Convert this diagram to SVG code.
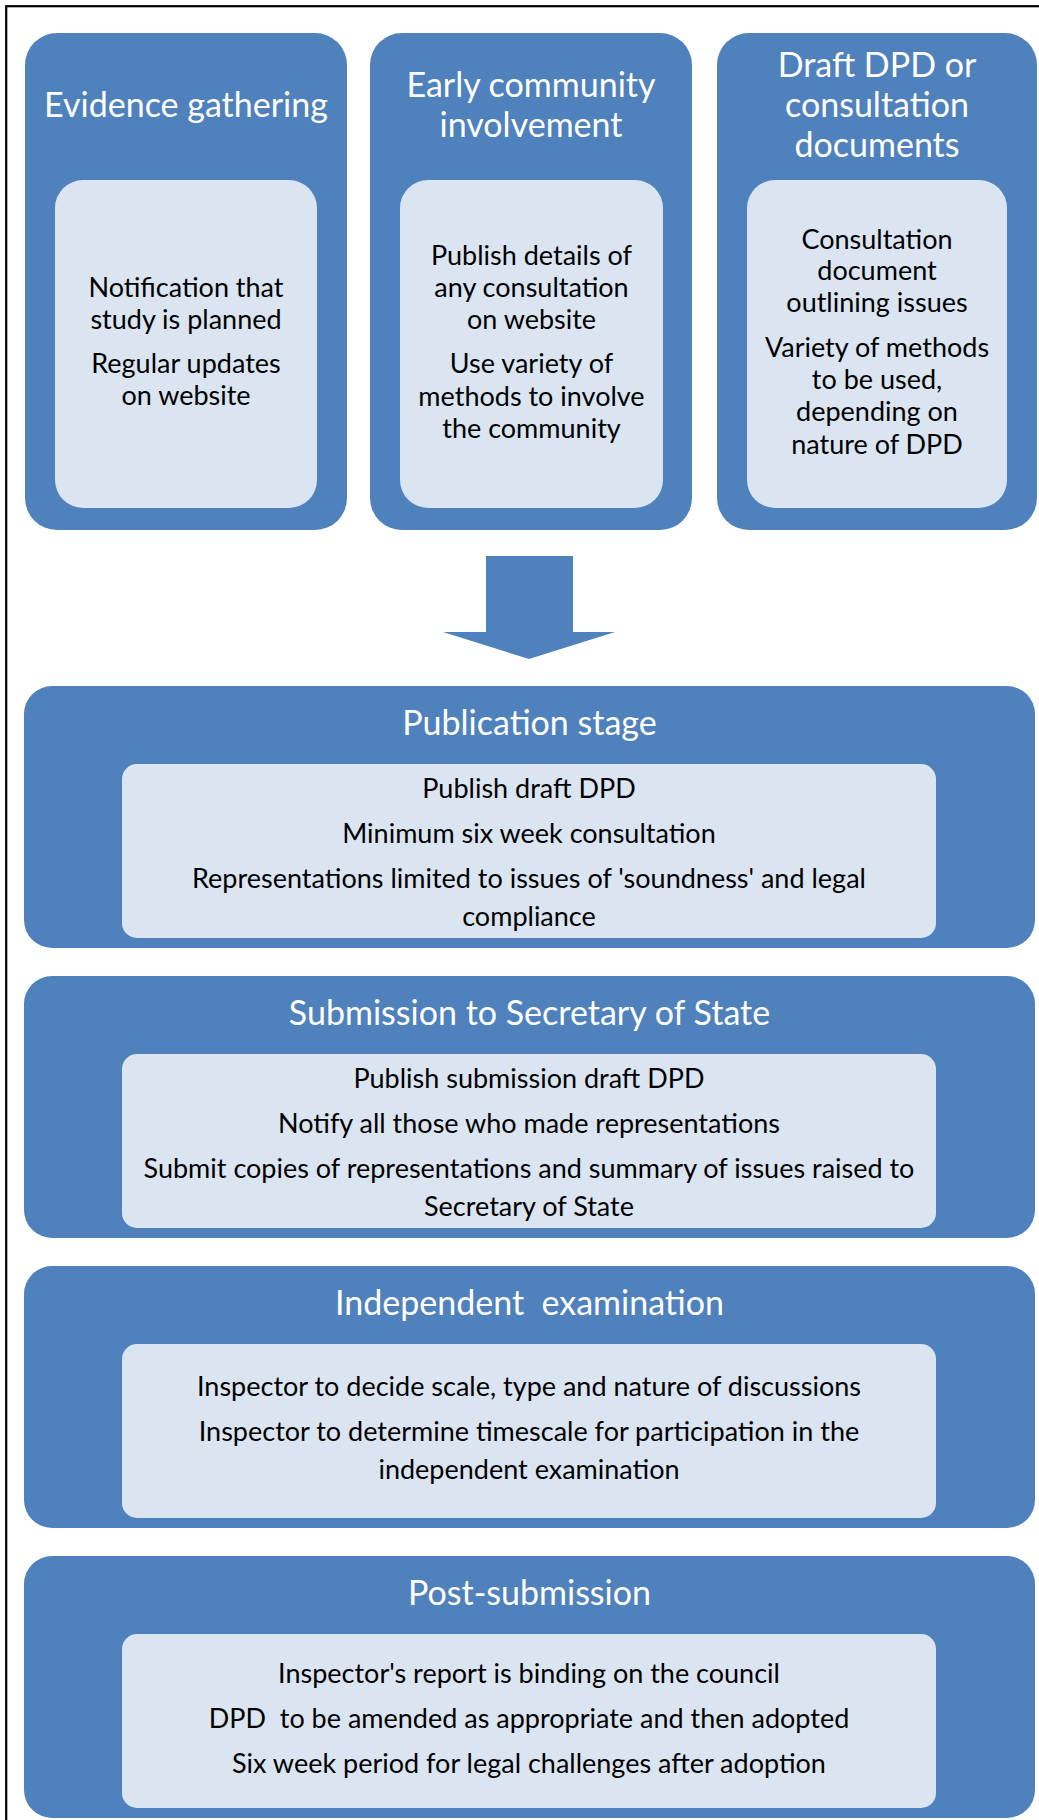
<svg xmlns="http://www.w3.org/2000/svg" width="1039" height="1820" viewBox="0 0 1039 1820">
<style>
.outer{fill:#4F81BD}
.inner{fill:#DBE5F1}
.ttl{font-family:Lato,"Liberation Sans",sans-serif;font-size:34px;fill:#FFFFFF;text-anchor:middle;white-space:pre}
.txt{font-family:Lato,"Liberation Sans",sans-serif;font-size:27px;fill:#000000;text-anchor:middle;white-space:pre}
</style>
<rect x="0" y="0" width="1039" height="1820" fill="#FFFFFF"/>
<rect x="6.2" y="6.2" width="1060" height="1840" fill="none" stroke="#000000" stroke-width="2.2"/>

<g id="evidence-gathering">
<rect class="outer" x="25" y="33" width="322" height="497" rx="32"/>
<rect class="inner" x="55" y="180" width="262" height="328" rx="28"/>
<text class="ttl" x="186" y="117">Evidence gathering</text>
<text class="txt" x="186" y="297">Notification that</text>
<text class="txt" x="186" y="329">study is planned</text>
<text class="txt" x="186" y="373">Regular updates</text>
<text class="txt" x="186" y="405">on website</text>
</g>

<g id="early-community-involvement">
<rect class="outer" x="370" y="33" width="322" height="497" rx="32"/>
<rect class="inner" x="400" y="180" width="263" height="328" rx="28"/>
<text class="ttl" x="531" y="97">Early community</text>
<text class="ttl" x="531" y="137">involvement</text>
<text class="txt" x="531.5" y="265">Publish details of</text>
<text class="txt" x="531.5" y="297">any consultation</text>
<text class="txt" x="531.5" y="329">on website</text>
<text class="txt" x="531.5" y="373">Use variety of</text>
<text class="txt" x="531.5" y="406">methods to involve</text>
<text class="txt" x="531.5" y="438">the community</text>
</g>

<g id="draft-dpd">
<rect class="outer" x="717" y="33" width="320" height="497" rx="32"/>
<rect class="inner" x="747" y="180" width="260" height="328" rx="28"/>
<text class="ttl" x="877" y="77">Draft DPD or</text>
<text class="ttl" x="877" y="117">consultation</text>
<text class="ttl" x="877" y="157">documents</text>
<text class="txt" x="877" y="249">Consultation</text>
<text class="txt" x="877" y="280">document</text>
<text class="txt" x="877" y="312">outlining issues</text>
<text class="txt" x="877" y="357">Variety of methods</text>
<text class="txt" x="877" y="389">to be used,</text>
<text class="txt" x="877" y="421">depending on</text>
<text class="txt" x="877" y="454">nature of DPD</text>
</g>

<g id="connectors">
<polygon class="outer" points="486,556 573,556 573,632 615,632 529,659 443,632 486,632"/>
</g>

<g id="publication-stage">
<rect class="outer" x="24" y="686" width="1011" height="262" rx="28"/>
<rect class="inner" x="122" y="764" width="814" height="174" rx="15"/>
<text class="ttl" x="529.5" y="735">Publication stage</text>
<text class="txt" x="529" y="798">Publish draft DPD</text>
<text class="txt" x="529" y="843">Minimum six week consultation</text>
<text class="txt" x="529" y="888">Representations limited to issues of 'soundness' and legal</text>
<text class="txt" x="529" y="926">compliance</text>
</g>

<g id="submission">
<rect class="outer" x="24" y="976" width="1011" height="262" rx="28"/>
<rect class="inner" x="122" y="1054" width="814" height="174" rx="15"/>
<text class="ttl" x="529.5" y="1025">Submission to Secretary of State</text>
<text class="txt" x="529" y="1088">Publish submission draft DPD</text>
<text class="txt" x="529" y="1133">Notify all those who made representations</text>
<text class="txt" x="529" y="1178">Submit copies of representations and summary of issues raised to</text>
<text class="txt" x="529" y="1216">Secretary of State</text>
</g>

<g id="independent-examination">
<rect class="outer" x="24" y="1266" width="1011" height="262" rx="28"/>
<rect class="inner" x="122" y="1344" width="814" height="174" rx="15"/>
<text class="ttl" x="529.5" y="1315">Independent  examination</text>
<text class="txt" x="529" y="1396">Inspector to decide scale, type and nature of discussions</text>
<text class="txt" x="529" y="1441">Inspector to determine timescale for participation in the</text>
<text class="txt" x="529" y="1479">independent examination</text>
</g>

<g id="post-submission">
<rect class="outer" x="24" y="1556" width="1011" height="262" rx="28"/>
<rect class="inner" x="122" y="1634" width="814" height="174" rx="15"/>
<text class="ttl" x="529.5" y="1605">Post-submission</text>
<text class="txt" x="529" y="1683">Inspector's report is binding on the council</text>
<text class="txt" x="529" y="1728">DPD  to be amended as appropriate and then adopted</text>
<text class="txt" x="529" y="1773">Six week period for legal challenges after adoption</text>
</g>
</svg>
